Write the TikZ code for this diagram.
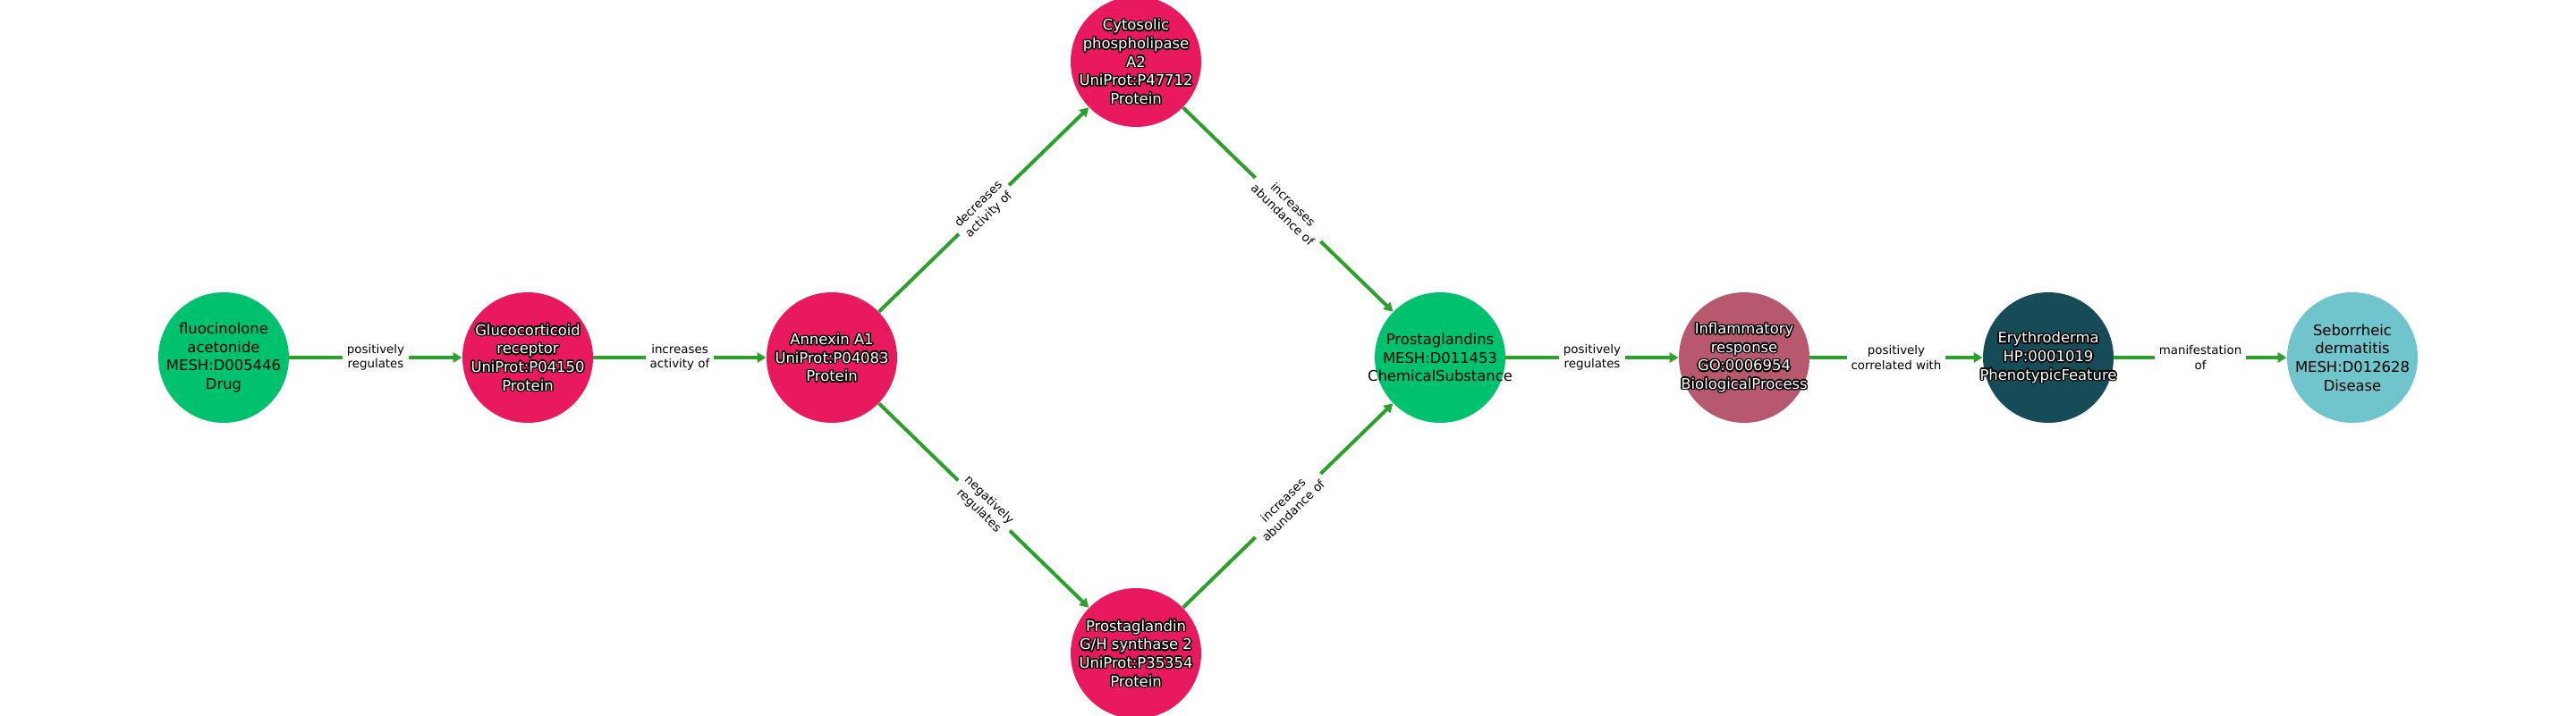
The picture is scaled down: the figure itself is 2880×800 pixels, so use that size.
\documentclass[tikz,border=0pt]{standalone}
\usepackage{fontspec}
\setmainfont{DejaVu Sans}
\usetikzlibrary{arrows.meta}
\definecolor{edgegreen}{HTML}{2CA02C}
\definecolor{drugcol}{HTML}{00C26E}
\definecolor{protcol}{HTML}{E8195E}
\definecolor{biocol}{HTML}{B8586F}
\definecolor{phencol}{HTML}{154C57}
\definecolor{discol}{HTML}{6FC5CB}
\tikzset{
  circ/.style={circle, minimum size=73pt, inner sep=0pt, draw=none},
  ntext/.style={align=center, inner sep=0pt, font=\fontsize{8.2}{10.3}\selectfont},
  edge/.style={draw=edgegreen, line width=2pt, -{Triangle[length=5pt,width=5.5pt]}},
  elbl/.style={fill=white, align=center, inner sep=2.5pt, font=\fontsize{6.7}{8.2}\selectfont, text=black},
}
\newcommand\halotext[2]{%
  \foreach \ang in {0,30,...,330}{\node[ntext,text=black] at ([shift={(\ang:0.75pt)}]#1.center) {#2};}
  \node[ntext,text=white] at (#1.center) {#2};
}
\begin{document}
\begin{tikzpicture}[x=0.5pt,y=-0.5pt]
\useasboundingbox (0,0) rectangle (2880,800);
\clip (0,0) rectangle (2880,800);
\fill[white] (0,0) rectangle (2880,800);
% nodes
\node[circ, fill=drugcol] (flu) at (250,400) {};
\node[circ, fill=protcol] (gr) at (590,400) {};
\node[circ, fill=protcol] (anx) at (930,400) {};
\node[circ, fill=protcol] (cpla) at (1270,69) {};
\node[circ, fill=protcol] (pgh) at (1270,731) {};
\node[circ, fill=drugcol] (pg) at (1610,400) {};
\node[circ, fill=biocol] (inf) at (1950,400) {};
\node[circ, fill=phencol] (ery) at (2290,400) {};
\node[circ, fill=discol] (seb) at (2630,400) {};
% edges
\draw[edge] (flu) -- node[elbl] {positively\\regulates} (gr);
\draw[edge] (gr) -- node[elbl] {increases\\activity of} (anx);
\draw[edge] (anx) -- node[elbl, sloped] {decreases\\activity of} (cpla);
\draw[edge] (anx) -- node[elbl, sloped] {negatively\\regulates} (pgh);
\draw[edge] (cpla) -- node[elbl, sloped] {increases\\abundance of} (pg);
\draw[edge] (pgh) -- node[elbl, sloped] {increases\\abundance of} (pg);
\draw[edge] (pg) -- node[elbl] {positively\\regulates} (inf);
\draw[edge] (inf) -- node[elbl] {positively\\correlated with} (ery);
\draw[edge] (ery) -- node[elbl] {manifestation\\of} (seb);
% texts
\node[ntext, text=black] (flut) at (flu.center) {fluocinolone\\acetonide\\MESH:D005446\\Drug};
\halotext{gr}{Glucocorticoid\\receptor\\UniProt:P04150\\Protein}
\halotext{anx}{Annexin A1\\UniProt:P04083\\Protein}
\halotext{cpla}{Cytosolic\\phospholipase\\A2\\UniProt:P47712\\Protein}
\halotext{pgh}{Prostaglandin\\G/H synthase 2\\UniProt:P35354\\Protein}
\node[ntext, text=black] (pgt) at (pg.center) {Prostaglandins\\MESH:D011453\\ChemicalSubstance};
\halotext{inf}{Inflammatory\\response\\GO:0006954\\BiologicalProcess}
\halotext{ery}{Erythroderma\\HP:0001019\\PhenotypicFeature}
\node[ntext, text=black] (sebt) at (seb.center) {Seborrheic\\dermatitis\\MESH:D012628\\Disease};
\end{tikzpicture}
\end{document}
